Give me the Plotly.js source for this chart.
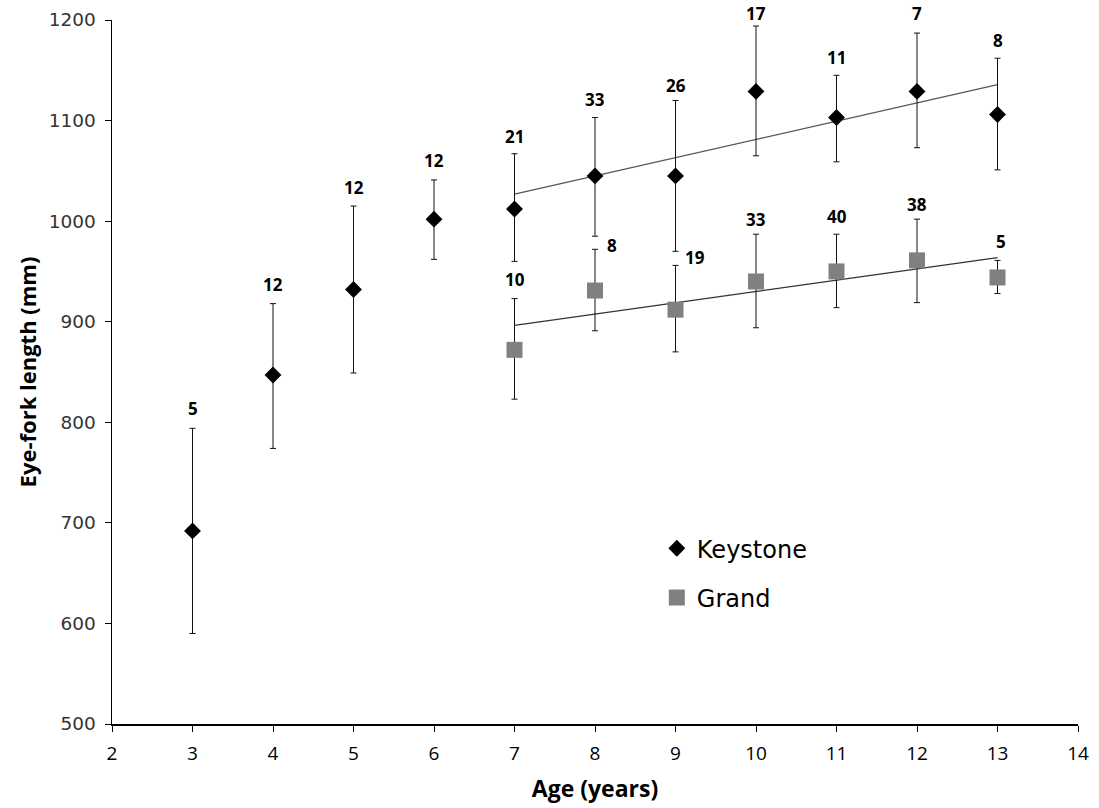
<!DOCTYPE html>
<html>
<head>
<meta charset="utf-8">
<script src="https://cdn.plot.ly/plotly-3.0.1.min.js"></script>
<style>html,body{margin:0;padding:0;background:#fff}#chart{width:1099px;height:808px}</style>
</head>
<body>
<div id="chart"></div>
<script>
// Keystone
const keystoneAge = [3, 4, 5, 6, 7, 8, 9, 10, 11, 12, 13];
const keystoneMean = [692, 847, 932, 1002, 1012, 1045, 1045, 1129, 1103, 1129, 1106];
const keystoneUpper = [794, 918, 1015, 1041, 1067, 1103, 1120, 1194, 1145, 1187, 1162];
const keystoneLower = [590, 774, 849, 962, 960, 985, 970, 1065, 1059, 1073, 1051];
const keystoneN = [5, 12, 12, 12, 21, 33, 26, 17, 11, 7, 8];

// Grand
const grandAge = [7, 8, 9, 10, 11, 12, 13];
const grandMean = [872, 931, 912, 940, 950, 961, 944];
const grandUpper = [923, 972, 956, 987, 987, 1002, 961];
const grandLower = [823, 891, 870, 894, 914, 919, 928];
const grandN = [10, 8, 19, 33, 40, 38, 5];

const xTicks = [2, 3, 4, 5, 6, 7, 8, 9, 10, 11, 12, 13, 14];
const yTicks = [500, 600, 700, 800, 900, 1000, 1100, 1200];

// label offsets (pixels, style only)
const kLabelShiftY = [20, 19, 19, 19, 17, 18, 15, 13, 18, 20, 18];
const gLabelShiftX = [0, 10, 7, 0, 0, 0, 3];
const gLabelShiftY = [19, 4, 8, 15, 18, 15, 19];

function fit(xs, ys) {
  const n = xs.length;
  const mx = xs.reduce((a, b) => a + b, 0) / n;
  const my = ys.reduce((a, b) => a + b, 0) / n;
  let sxy = 0, sxx = 0;
  for (let i = 0; i < n; i++) { sxy += (xs[i] - mx) * (ys[i] - my); sxx += (xs[i] - mx) ** 2; }
  const b = sxy / sxx, a = my - b * mx;
  const x0 = Math.min(...xs), x1 = Math.max(...xs);
  return { x: [x0, x1], y: [a + b * x0, a + b * x1] };
}

const kSub = keystoneAge.map((a, i) => i).filter(i => keystoneAge[i] >= 7);
const kFit = fit(kSub.map(i => keystoneAge[i]), kSub.map(i => keystoneMean[i]));
const gFit = fit(grandAge, grandMean);

const traces = [
  { x: kFit.x, y: kFit.y, mode: 'lines', line: { color: '#555', width: 1.2 }, showlegend: false, hoverinfo: 'skip' },
  { x: gFit.x, y: gFit.y, mode: 'lines', line: { color: '#333', width: 1.2 }, showlegend: false, hoverinfo: 'skip' },
  {
    name: 'Keystone', legendgroup: 'k', x: keystoneAge, y: keystoneMean, mode: 'markers', type: 'scatter',
    marker: { symbol: 'diamond', size: 13, color: '#000' },
    error_y: { type: 'data', symmetric: false,
      array: keystoneUpper.map((u, i) => u - keystoneMean[i]),
      arrayminus: keystoneMean.map((m, i) => m - keystoneLower[i]),
      color: '#111', thickness: 1, width: 3 }
  },
  {
    name: 'Grand', legendgroup: 'g', x: grandAge, y: grandMean, mode: 'markers', type: 'scatter',
    marker: { symbol: 'square', size: 16, color: '#808080' },
    error_y: { type: 'data', symmetric: false,
      array: grandUpper.map((u, i) => u - grandMean[i]),
      arrayminus: grandMean.map((m, i) => m - grandLower[i]),
      color: '#111', thickness: 1, width: 3 }
  }
];

const labelFont = { family: 'Liberation Sans Narrow, Open Sans, sans-serif', size: 17, color: '#000' };
const annotations = [];
keystoneAge.forEach((a, i) => {
  annotations.push({ x: a, y: keystoneUpper[i], text: '<b>' + keystoneN[i] + '</b>', showarrow: false,
    xanchor: 'center', yanchor: 'middle', yshift: kLabelShiftY[i], font: labelFont });
});
grandAge.forEach((a, i) => {
  const side = gLabelShiftX[i] > 5;
  annotations.push({ x: a, y: grandUpper[i], text: '<b>' + grandN[i] + '</b>', showarrow: false,
    xanchor: side ? 'left' : 'center', yanchor: 'middle', xshift: gLabelShiftX[i], yshift: gLabelShiftY[i], font: labelFont });
});

const layout = {
  width: 1099, height: 808,
  margin: { l: 112, r: 21, t: 20, b: 84 },
  paper_bgcolor: '#fff', plot_bgcolor: '#fff',
  showlegend: true,
  legend: { x: 0.564, y: 0.281, xanchor: 'left', yanchor: 'top', tracegroupgap: 15,
    font: { family: 'DejaVu Sans, sans-serif', size: 24, color: '#000' }, bgcolor: 'rgba(0,0,0,0)' },
  xaxis: {
    range: [2, 14], tickvals: xTicks, ticktext: xTicks.map(String), showgrid: false, zeroline: false,
    showline: true, linecolor: '#000', linewidth: 1.5, ticks: 'outside', ticklen: 6, tickcolor: '#000',
    ticklabelstandoff: 6,
    tickfont: { family: 'Liberation Sans Narrow, Open Sans, sans-serif', size: 19, color: '#000' },
    title: { text: '<b>Age (years)</b>', standoff: 15, font: { family: 'Liberation Sans Narrow, Open Sans, sans-serif', size: 23, color: '#000' } }
  },
  yaxis: {
    range: [500, 1200], tickvals: yTicks, ticktext: yTicks.map(String), showgrid: false, zeroline: false,
    showline: true, linecolor: '#000', linewidth: 1.5, ticks: 'outside', ticklen: 6, tickcolor: '#000',
    ticklabelstandoff: 5,
    tickfont: { family: 'DejaVu Sans, sans-serif', size: 18.5, color: '#333' },
    title: { text: '<b>Eye-fork length (mm)</b>', standoff: 6, font: { family: 'Open Sans, sans-serif', size: 22, color: '#000' } }
  },
  annotations: annotations
};

Plotly.newPlot('chart', traces, layout, { displayModeBar: false, staticPlot: true });
</script>
</body>
</html>
